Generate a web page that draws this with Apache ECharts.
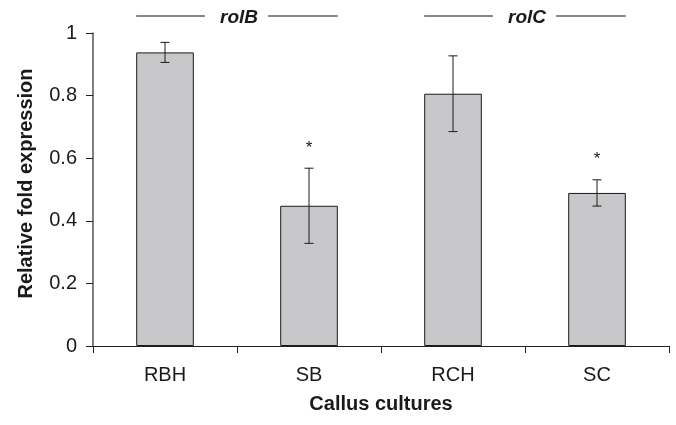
<!DOCTYPE html>
<html>
<head>
<meta charset="utf-8">
<script src="https://cdn.jsdelivr.net/npm/echarts@6/dist/echarts.min.js"></script>
<style>
html,body{margin:0;padding:0;background:#fff;}
#chart{width:676px;height:425px;}
</style>
</head>
<body>
<div id="chart"></div>
<script>
var categories = ['RBH', 'SB', 'RCH', 'SC'];
var values = [0.938, 0.448, 0.806, 0.489];
var errors = [0.032, 0.120, 0.121, 0.042];
var significance = ['', '*', '', '*'];
var groupNames = ['rolB', 'rolC'];
var groupStart = [0, 2];
var groupEnd = [1, 3];
var yTicks = [0, 0.2, 0.4, 0.6, 0.8, 1];

var FONT = '"Liberation Sans", Arial, sans-serif';
var chart = echarts.init(document.getElementById('chart'), null, {renderer: 'canvas'});

var errData = values.map(function (v, i) { return [i, v - errors[i], v + errors[i], significance[i]]; });
var groupData = groupNames.map(function (n, i) { return [groupStart[i], groupEnd[i], n]; });

chart.setOption({
  animation: false,
  backgroundColor: '#fff',
  grid: {left: 93, right: 7, top: 33, bottom: 79, containLabel: false, outerBoundsMode: 'none'},
  xAxis: {
    type: 'category',
    data: categories,
    boundaryGap: true,
    name: 'Callus cultures',
    nameLocation: 'middle',
    nameGap: 48,
    nameTextStyle: {fontFamily: FONT, fontSize: 20, fontWeight: 'bold', color: '#1a1a1a'},
    axisLine: {lineStyle: {color: '#222', width: 1}},
    axisTick: {show: true, length: 7, inside: false, lineStyle: {color: '#222'}},
    axisLabel: {fontFamily: FONT, fontSize: 20, color: '#1a1a1a', margin: 19}
  },
  yAxis: {
    type: 'value',
    min: 0, max: 1, interval: 0.2,
    name: 'Relative fold expression',
    nameLocation: 'middle',
    nameGap: 57,
    nameRotate: 90,
    nameTextStyle: {fontFamily: FONT, fontSize: 20, fontWeight: 'bold', color: '#1a1a1a', padding: [0, 0, 0, 12]},
    axisLine: {show: true, lineStyle: {color: '#555', width: 1.5}},
    axisTick: {show: true, length: 7, lineStyle: {color: '#222'}},
    axisLabel: {fontFamily: FONT, fontSize: 20, color: '#1a1a1a', margin: 16,
      formatter: function (v) { return yTicks.indexOf(+v.toFixed(1)) >= 0 ? String(+v.toFixed(1)) : ''; }},
    splitLine: {show: false}
  },
  series: [
    {
      type: 'bar',
      data: values,
      barWidth: '40%',
      itemStyle: {color: '#c8c8ca', borderColor: '#1a1a1a', borderWidth: 1},
      z: 2
    },
    {
      type: 'custom',
      data: errData,
      clip: false,
      z: 3,
      renderItem: function (params, api) {
        var i = api.value(0);
        var lo = api.coord([i, api.value(1)]);
        var hi = api.coord([i, api.value(2)]);
        var x = lo[0];
        var hw = 4.5;
        var st = {stroke: '#1a1a1a', lineWidth: 1};
        var children = [
          {type: 'line', shape: {x1: x, y1: lo[1], x2: x, y2: hi[1]}, style: st},
          {type: 'line', shape: {x1: x - hw, y1: lo[1], x2: x + hw, y2: lo[1]}, style: st},
          {type: 'line', shape: {x1: x - hw, y1: hi[1], x2: x + hw, y2: hi[1]}, style: st}
        ];
        var sig = significance[i];
        if (sig) {
          children.push({type: 'text', style: {text: sig, x: x, y: hi[1] - 20, align: 'center', verticalAlign: 'middle',
            font: '17px ' + FONT, fill: '#1a1a1a'}});
        }
        return {type: 'group', children: children};
      }
    },
    {
      type: 'custom',
      data: groupData,
      clip: false,
      z: 3,
      renderItem: function (params, api) {
        var s = api.value(0), e = api.value(1);
        var band = api.size([1, 0])[0];
        var p1 = api.coord([s, 1]);
        var p2 = api.coord([e, 1]);
        var left = p1[0] - band * 0.2;
        var right = p2[0] + band * 0.2;
        var cx = (left + right) / 2;
        var ly = p1[1] - 17;
        var st = {stroke: '#111', lineWidth: 1};
        return {type: 'group', children: [
          {type: 'line', shape: {x1: left, y1: ly, x2: cx - 32, y2: ly}, style: st},
          {type: 'line', shape: {x1: cx + 31, y1: ly, x2: right, y2: ly}, style: st},
          {type: 'text', style: {text: groupNames[params.dataIndex], x: cx + 2, y: ly + 2, align: 'center', verticalAlign: 'middle',
            font: 'italic bold 19px ' + FONT, fill: '#1a1a1a'}}
        ]};
      }
    }
  ]
});
</script>
</body>
</html>
